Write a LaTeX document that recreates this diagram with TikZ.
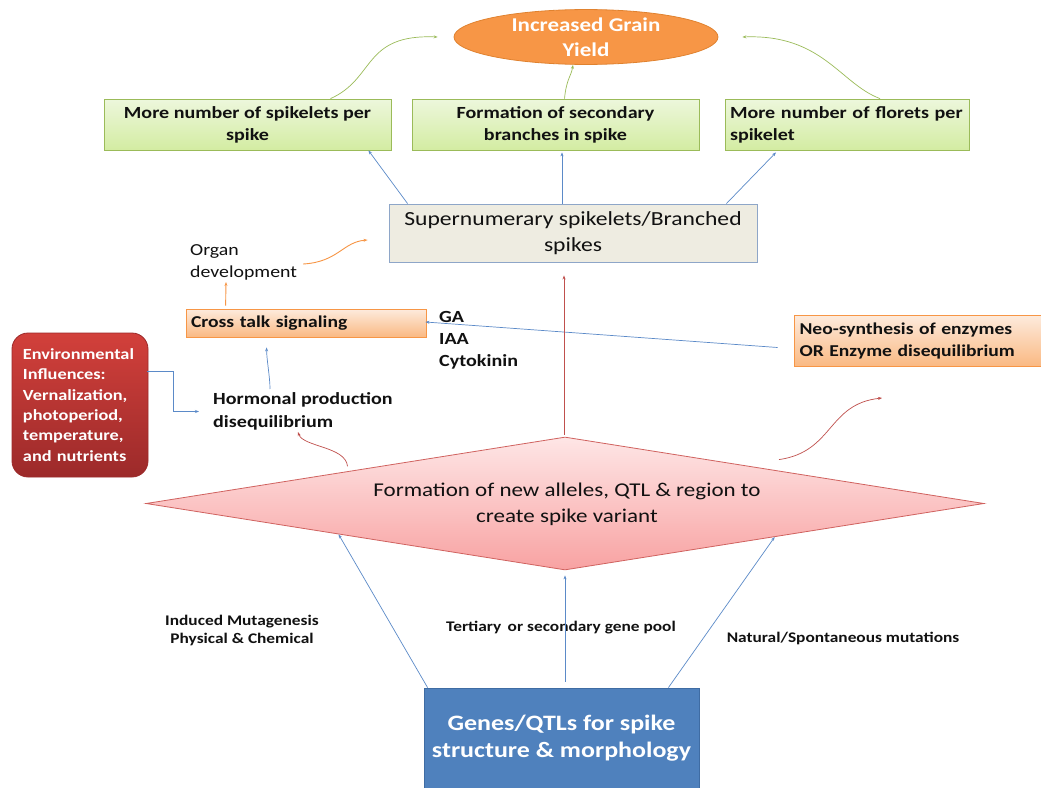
\documentclass[tikz,border=0pt]{standalone}
\usepackage{fontspec}
\setmainfont{Carlito}[FakeStretch=1.18]
\usetikzlibrary{shapes.geometric,arrows.meta,calc}
\definecolor{orfill}{HTML}{F79646}
\definecolor{orline}{HTML}{E0822F}
\definecolor{grtop}{HTML}{EDF7DC}
\definecolor{grbot}{HTML}{D3ECA2}
\definecolor{grline}{HTML}{9BBB59}
\definecolor{supfill}{HTML}{EEECE1}
\definecolor{supline}{HTML}{8EA6C8}
\definecolor{octop}{HTML}{FDEBDD}
\definecolor{ocbot}{HTML}{FAB983}
\definecolor{envtop}{HTML}{D2403B}
\definecolor{envbot}{HTML}{9C2A2A}
\definecolor{dtop}{HTML}{FEE6E6}
\definecolor{dbot}{HTML}{F8A2A2}
\definecolor{dline}{HTML}{D0625F}
\definecolor{genefill}{HTML}{4F81BD}
\definecolor{geneline}{HTML}{3F6CA3}
\definecolor{blueline}{HTML}{5B8AC8}
\definecolor{redline}{HTML}{C0504D}
\definecolor{txt}{HTML}{111111}
\begin{document}
\begin{tikzpicture}[x=1pt,y=-1pt,
  greenbox/.style={draw=grline,line width=0.8pt,top color=grtop,bottom color=grbot,minimum width=#1,minimum height=51pt,inner sep=0pt,font=\fontsize{17}{22}\selectfont\bfseries,text=txt},
  ocbox/.style={draw=orfill,line width=0.8pt,top color=octop,bottom color=ocbot,inner sep=0pt,font=\fontsize{16.6}{22}\selectfont\bfseries,text=txt},
  barrow/.style={draw=blueline,line width=0.7pt,-{Stealth[length=4pt,width=3pt]}},
  garrow/.style={draw=grline,line width=0.7pt,-{Stealth[length=4pt,width=3pt]}},
  oarrow/.style={draw=orfill,line width=0.9pt,-{Stealth[length=4pt,width=3pt]}},
  rarrow/.style={draw=redline,line width=0.7pt,-{Stealth[length=4pt,width=3pt]}},
  lbl/.style={font=\fontsize{14.7}{18}\selectfont\bfseries,text=txt,inner sep=0pt,align=center},
]
\useasboundingbox (0,0) rectangle (1041,787);
\fill[white] (0,0) rectangle (1041,787);

% top ellipse
\node[ellipse,draw=orline,line width=0.8pt,fill=orfill,minimum width=264pt,minimum height=50pt,inner sep=0pt,
  font=\fontsize{19.5}{25}\selectfont\bfseries,text=white,align=center] (yield) at (586,37) {Increased Grain\\Yield};

% green boxes
\node[greenbox=287pt,align=center] (b1) at (247.5,124.5) {More number of spikelets per\\spike};
\node[greenbox=287pt,align=center] (b2) at (555.5,124.5) {Formation of secondary\\branches in spike};
\node[greenbox=244pt,align=left,text width=234pt] (b3) at (847,124.5) {More number of florets per\\spikelet};

% supernumerary
\node[draw=supline,line width=0.9pt,fill=supfill,minimum width=368pt,minimum height=58pt,inner sep=0pt,
  font=\fontsize{20}{26}\selectfont,text=txt,align=center] (sup) at (573,233) {Supernumerary spikelets/Branched\\spikes};

% organ development
\node[font=\fontsize{16.8}{22}\selectfont,text=txt,align=left,inner sep=0pt,anchor=west] (organ) at (190,262) {Organ\\development};

% cross talk
\node[ocbox,minimum width=240pt,minimum height=28pt,text width=230pt,align=left] (cross) at (306,323) {Cross talk signaling};
\node[font=\fontsize{17}{22}\selectfont\bfseries,text=txt,align=left,inner sep=0pt,anchor=west] (hormones) at (439,340) {GA\\IAA\\Cytokinin};

% neo-synthesis
\node[ocbox,minimum width=247pt,minimum height=51pt,text width=236pt,align=left] (neo) at (917.5,340.5) {Neo-synthesis of enzymes\\OR Enzyme disequilibrium};

% environmental
\node[draw=envbot,line width=0.8pt,top color=envtop,bottom color=envbot,rounded corners=16pt,minimum width=136pt,minimum height=144pt,
  inner sep=0pt,text width=114pt,align=left,font=\fontsize{15.5}{20.4}\selectfont\bfseries,text=white] (env) at (80,405)
  {Environmental\\Influences:\\Vernalization,\\photoperiod,\\temperature,\\and nutrients};

% hormonal production
\node[font=\fontsize{17}{23}\selectfont\bfseries,text=txt,align=left,inner sep=0pt,anchor=west] (horm) at (213,411) {Hormonal production\\disequilibrium};

% diamond
\node[diamond,draw=dline,line width=0.8pt,top color=dtop,bottom color=dbot,minimum width=838pt,minimum height=133pt,inner sep=0pt] (dia) at (565,503.5) {};
\node[font=\fontsize{19.5}{26}\selectfont,text=txt,align=center,inner sep=0pt] (diatext) at (567,504) {Formation of new alleles, QTL \& region to\\create spike variant};

% gene box
\node[draw=geneline,line width=0.8pt,fill=genefill,minimum width=275pt,minimum height=100pt,inner sep=0pt,
  font=\fontsize{22}{27}\selectfont\bfseries,text=white,align=center] (gene) at (561.5,738) {Genes/QTLs for spike\\structure \& morphology};

% bottom labels
\node[lbl] (lind) at (242,630) {Induced Mutagenesis\\Physical \& Chemical};
\node[lbl] (lter) at (561,628) {Tertiary\, or secondary gene pool};
\node[lbl] (lnat) at (843,638) {Natural/Spontaneous mutations};

% coordinates
\coordinate (dl) at ($(dia.west)!0.46!(dia.south)$);
\coordinate (dr) at ($(dia.south)!0.5!(dia.east)$);
\coordinate (redstart) at ($(dl)+(9,-68)$);
\coordinate (redend) at (882,398);

% green curves to yield
\draw[garrow] ([xshift=83pt]b1.north) .. controls +(45,-20) and +(-75,-3) .. ([xshift=-16pt]yield.west);
\draw[garrow] ([xshift=9pt]b2.north) .. controls +(2,-20) and +(-2,12) .. ([xshift=-13pt]yield.south);
\draw[garrow] ([xshift=33pt]b3.north) .. controls +(-40,-15) and +(80,-3) .. ([xshift=24pt]yield.east);

% blue arrows from sup to green
\draw[barrow] ([xshift=19pt]sup.north west) -- ([xshift=-23pt]b1.south east);
\draw[barrow] ([xshift=-11pt]sup.north) -- ([xshift=6.5pt,yshift=-2pt]b2.south);
\draw[barrow] ([xshift=-31pt]sup.north east) -- ([xshift=-71pt,yshift=-2pt]b3.south);

% orange arrows
\draw[oarrow] ([xshift=6pt,yshift=-2pt]organ.east) .. controls +(35,-2) and +(-25,2) .. ([xshift=-21pt,yshift=-7pt]sup.west);
\draw[oarrow] ([xshift=40pt,yshift=3pt]cross.north west) -- ([xshift=36pt,yshift=-2pt]organ.south west);

% blue line neo -> cross
\draw[barrow] ([xshift=-16pt,yshift=-7pt]neo.west) -- ([xshift=-1pt,yshift=1pt]cross.east);

% environmental elbow arrow
\draw[barrow] ([xshift=-1pt,yshift=34pt]env.east) -- ++(26,0) |- ([xshift=-14pt,yshift=-0.5pt]horm.west);

% hormonal up to cross
\draw[barrow] ([xshift=57pt,yshift=3pt]horm.north west) .. controls +(0,-12) and +(0,12) .. ([xshift=81pt,yshift=-10pt]cross.south west);

% red curve to hormonal
\draw[rarrow] (redstart) .. controls +(-2,-20) and +(5,15) .. ([xshift=85pt,yshift=-2pt]horm.south west);

% red vertical
\draw[rarrow] ([xshift=-1pt,yshift=2pt]dia.north) -- ([xshift=-9pt,yshift=-13pt]sup.south);

% red curve right
\draw[rarrow] ([xshift=214pt,yshift=-23pt]dia.north) .. controls +(55,-8) and +(-55,6) .. (redend);

% bottom blue arrows
\draw[barrow] ([xshift=4pt]gene.north west) -- (dl);
\draw[barrow] ([xshift=3.5pt,yshift=6pt]gene.north) -- ([yshift=-5pt]dia.south);
\draw[barrow] ([xshift=-31pt]gene.north east) -- (dr);
\end{tikzpicture}
\end{document}
